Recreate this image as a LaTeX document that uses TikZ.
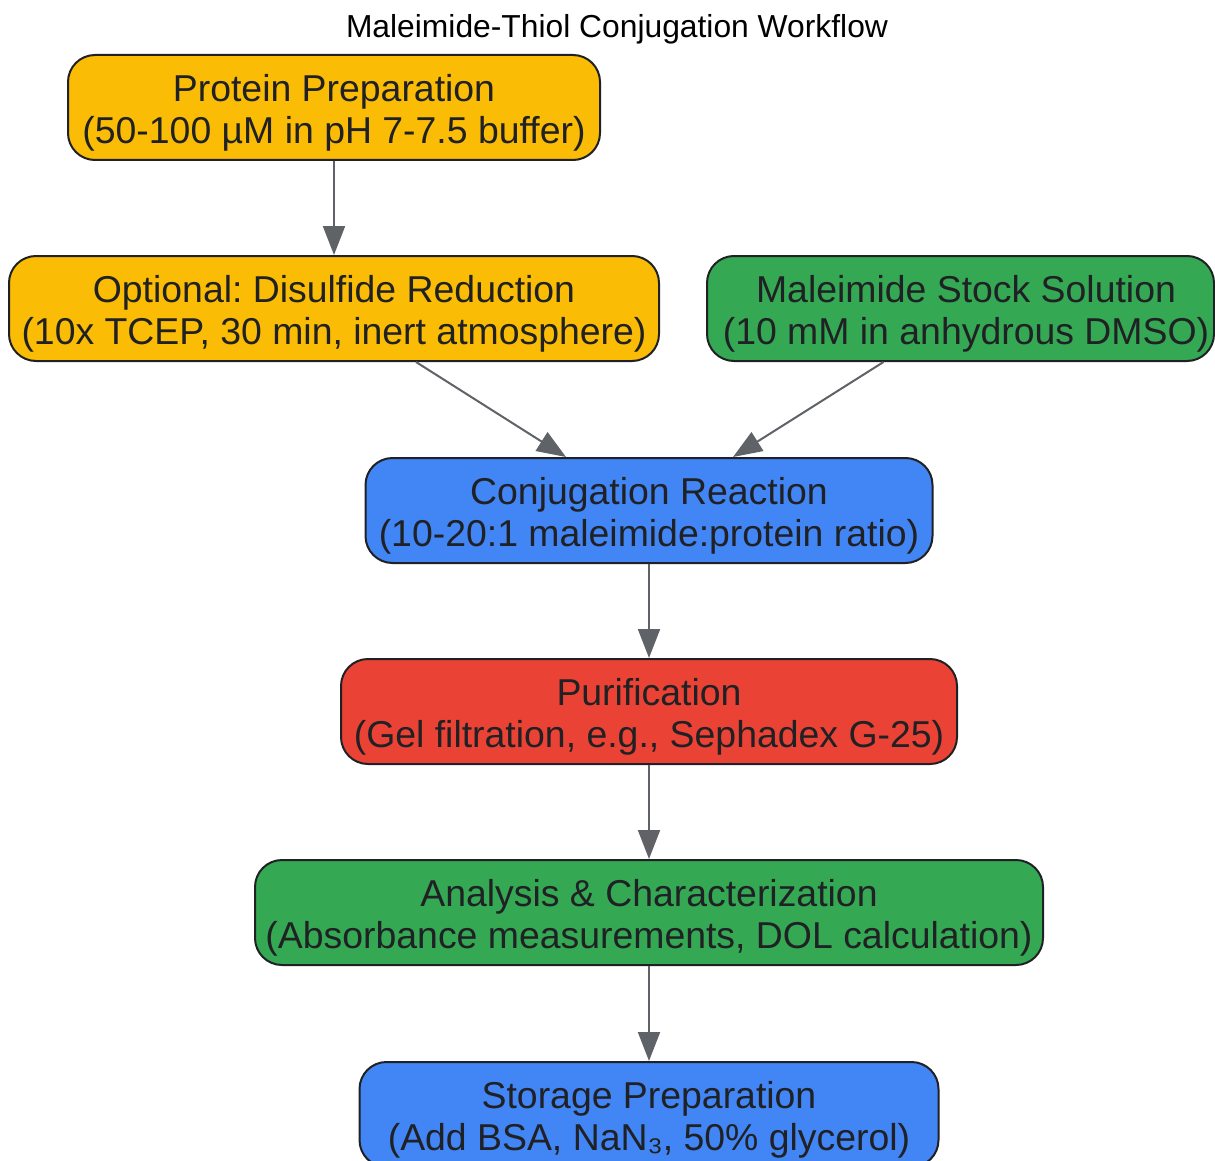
\documentclass[tikz,border=0pt]{standalone}
\usepackage{fontspec}
\setmainfont{Liberation Sans}
\usetikzlibrary{arrows.meta}
\frenchspacing
\definecolor{cyellow}{HTML}{FBBC05}
\definecolor{cgreen}{HTML}{34A853}
\definecolor{cblue}{HTML}{4285F4}
\definecolor{cred}{HTML}{EA4335}
\definecolor{cline}{HTML}{202124}
\definecolor{carrow}{HTML}{5F6368}
\newcommand{\toppad}{\rule{0pt}{38pt}}
\begin{document}
\begin{tikzpicture}[x=1pt,y=-1pt,
  box/.style={draw=cline, line width=2pt, rounded corners=27pt, align=center,
    text=cline, minimum height=105pt, inner sep=0pt,
    font=\fontsize{37.4}{42}\selectfont},
  flow/.style={draw=carrow, line width=2pt, -{Triangle[length=29pt,width=22pt]}}]
\useasboundingbox[fill=white] (0,0) rectangle (1215,1161);
\node[font=\fontsize{31.8}{36}\selectfont] (title) at (617,29) {Maleimide-Thiol Conjugation Workflow};
\node[box, fill=cyellow, minimum width=532pt] (prot) at (334,107.5) {\toppad Protein Preparation\\(50-100 µM in pH 7-7.5 buffer)};
\node[box, fill=cyellow, minimum width=650pt] (opt) at (334,308.5) {\toppad Optional: Disulfide Reduction\\(10x TCEP, 30 min, inert atmosphere)};
\node[box, fill=cgreen, minimum width=507pt] (mal) at (960.5,308.5) {\hspace*{11pt}\toppad Maleimide Stock Solution\\\hspace*{11pt}(10 mM in anhydrous DMSO)};
\node[box, fill=cblue, minimum width=567pt] (conj) at (649,510.5) {\toppad Conjugation Reaction\\(10-20:1 maleimide:protein ratio)};
\node[box, fill=cred, minimum width=616pt] (pur) at (649,711.5) {\toppad Purification\\(Gel filtration, e.g., Sephadex G-25)};
\node[box, fill=cgreen, minimum width=788pt] (ana) at (649,912.5) {\toppad Analysis \& Characterization\\(Absorbance measurements, DOL calculation)};
\node[box, fill=cblue, minimum width=579pt] (sto) at (649,1114.5) {\toppad Storage Preparation\\(Add BSA, NaN₃, 50\% glycerol)};
\draw[flow] (prot.south) -- (opt.north);
\draw[flow] ([xshift=82pt]opt.south) -- ([xshift=-83pt]conj.north);
\draw[flow] ([xshift=-77pt]mal.south) -- ([xshift=84pt]conj.north);
\draw[flow] (conj.south) -- (pur.north);
\draw[flow] (pur.south) -- (ana.north);
\draw[flow] (ana.south) -- (sto.north);
\end{tikzpicture}
\end{document}
